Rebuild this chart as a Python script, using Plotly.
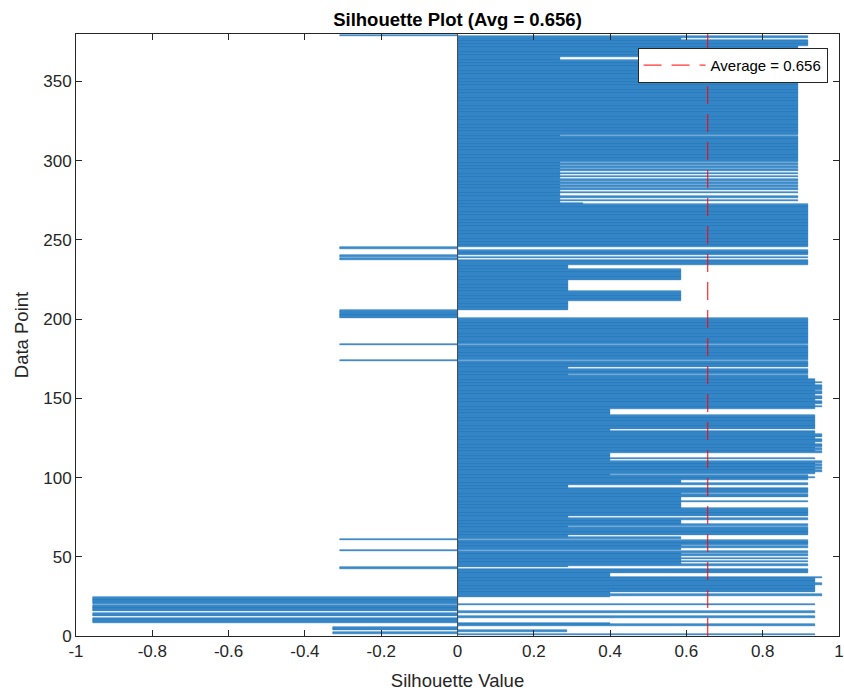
import plotly.graph_objects as go

# Silhouette values per data point (index 1..379)
vals_001_050 = [0.936, -0.326, 0.286, -0.326, -0.326, 0.0, 0.936, 0.401, -0.955, -0.955,
                -0.955, 0.936, -0.955, -0.955, 0.936, -0.955, -0.955, -0.955, -0.955, 0.936,
                -0.955, -0.955, -0.955, -0.955, 0.401, 0.955, 0.401, 0.936, 0.936, 0.936,
                0.936, 0.936, 0.955, 0.936, 0.936, 0.936, 0.955, 0.401, 0.401, 0.919,
                0.919, 0.919, -0.308, 0.289, 0.919, 0.586, 0.919, 0.586, 0.919, 0.586]
vals_051_100 = [0.919, 0.586, 0.919, -0.308, 0.586, 0.919, 0.586, 0.919, 0.919, 0.919,
                -0.308, 0.586, 0.289, 0.919, 0.919, 0.919, 0.919, 0.919, 0.289, 0.919,
                0.586, 0.586, 0.586, 0.919, 0.289, 0.919, 0.919, 0.919, 0.919, 0.919,
                0.586, 0.586, 0.586, 0.586, 0.919, 0.586, 0.586, 0.919, 0.919, 0.586,
                0.919, 0.919, 0.919, 0.289, 0.289, 0.919, 0.586, 0.586, 0.919, 0.936]
vals_101_150 = [0.919, 0.401, 0.936, 0.955, 0.936, 0.955, 0.936, 0.955, 0.936, 0.955,
                0.401, 0.936, 0.401, 0.401, 0.401, 0.955, 0.936, 0.955, 0.936, 0.955,
                0.955, 0.936, 0.955, 0.955, 0.936, 0.955, 0.955, 0.936, 0.936, 0.401,
                0.936, 0.936, 0.936, 0.936, 0.936, 0.936, 0.936, 0.936, 0.936, 0.401,
                0.401, 0.401, 0.401, 0.936, 0.955, 0.936, 0.955, 0.955, 0.936, 0.955]
vals_151_200 = [0.955, 0.936, 0.955, 0.955, 0.936, 0.955, 0.955, 0.955, 0.936, 0.955,
                0.936, 0.936, 0.919, 0.919, 0.289, 0.919, 0.919, 0.919, 0.289, 0.919,
                0.919, 0.919, 0.919, -0.308, 0.919, 0.919, 0.919, 0.919, 0.919, 0.919,
                0.919, 0.919, 0.919, -0.308, 0.919, 0.919, 0.919, 0.919, 0.919, 0.919,
                0.919, 0.919, 0.919, 0.919, 0.919, 0.919, 0.919, 0.919, 0.919, 0.919]
vals_201_250 = [-0.308, -0.308, -0.308, -0.308, -0.308, 0.289, 0.289, 0.289, 0.289, 0.289,
                0.289, 0.586, 0.586, 0.586, 0.586, 0.586, 0.586, 0.289, 0.289, 0.289,
                0.289, 0.289, 0.289, 0.289, 0.586, 0.586, 0.586, 0.586, 0.586, 0.586,
                0.586, 0.289, 0.289, 0.289, 0.919, 0.919, 0.919, -0.308, 0.919, -0.308,
                0.919, 0.919, 0.919, 0.0, -0.308, 0.919, 0.919, 0.919, 0.919, 0.919]
vals_251_300 = [0.919, 0.919, 0.919, 0.919, 0.919, 0.919, 0.919, 0.919, 0.919, 0.919,
                0.919, 0.919, 0.919, 0.919, 0.919, 0.919, 0.919, 0.919, 0.919, 0.919,
                0.919, 0.919, 0.328, 0.268, 0.893, 0.268, 0.893, 0.268, 0.268, 0.893,
                0.268, 0.893, 0.268, 0.893, 0.268, 0.893, 0.268, 0.893, 0.268, 0.893,
                0.268, 0.893, 0.268, 0.893, 0.268, 0.893, 0.268, 0.893, 0.268, 0.893]
vals_301_350 = [0.893, 0.893, 0.893, 0.893, 0.893, 0.893, 0.893, 0.893, 0.893, 0.893,
                0.893, 0.893, 0.893, 0.893, 0.893, 0.268, 0.893, 0.893, 0.893, 0.893,
                0.893, 0.893, 0.893, 0.893, 0.893, 0.893, 0.893, 0.893, 0.893, 0.893,
                0.893, 0.893, 0.893, 0.893, 0.893, 0.893, 0.893, 0.893, 0.893, 0.893,
                0.893, 0.893, 0.893, 0.893, 0.893, 0.893, 0.893, 0.893, 0.893, 0.893]
vals_351_379 = [0.893, 0.893, 0.893, 0.893, 0.893, 0.893, 0.893, 0.893, 0.893, 0.893,
                0.893, 0.893, 0.893, 0.268, 0.268, 0.893, 0.893, 0.893, 0.893, 0.893,
                0.893, 0.893, 0.919, 0.919, 0.919, 0.919, 0.586, 0.919, -0.308]

avg_value = 0.656
x_ticks = [-1, -0.8, -0.6, -0.4, -0.2, 0, 0.2, 0.4, 0.6, 0.8, 1]
x_tick_text = ["-1", "-0.8", "-0.6", "-0.4", "-0.2", "0", "0.2", "0.4", "0.6", "0.8", "1"]
y_ticks = [0, 50, 100, 150, 200, 250, 300, 350]
title_text = "Silhouette Plot (Avg = 0.656)"
legend_text = "Average = 0.656"

values = (vals_001_050 + vals_051_100 + vals_101_150 + vals_151_200 +
          vals_201_250 + vals_251_300 + vals_301_350 + vals_351_379)
n = len(values)
idx = list(range(1, n + 1))

FONT = "Helvetica, Liberation Sans, Arial, sans-serif"
AXC = "#262626"

fig = go.Figure()
fig.add_trace(go.Bar(
    x=values, y=idx, orientation="h",
    marker=dict(color="#4190ce", line=dict(color="#0a67b0", width=0.5)),
    showlegend=False, hoverinfo="x+y",
))
fig.add_trace(go.Scatter(
    x=[avg_value, avg_value], y=[0, n + 1], mode="lines",
    line=dict(color="#ff0000", width=1, dash="18px,10px"),
    name=legend_text, showlegend=True,
))

fig.add_shape(type="line", xref="x", yref="paper", x0=0, x1=0, y0=0, y1=1,
              line=dict(color="#4d4d4d", width=1), layer="above")

fig.update_layout(
    width=844, height=694,
    margin=dict(l=76, r=5, t=34, b=58, autoexpand=False),
    paper_bgcolor="white", plot_bgcolor="white",
    bargap=0.0,
    font=dict(family=FONT, size=17, color=AXC),
    title=dict(text="<b>" + title_text + "</b>", x=0.5, xref="paper", y=0.972,
               yanchor="middle", xanchor="center",
               font=dict(family=FONT, size=18.5, color="#000000")),
    legend=dict(x=0.985, xanchor="right", y=0.977, yanchor="top",
                bgcolor="white", bordercolor=AXC, borderwidth=1,
                font=dict(family=FONT, size=15, color="#000000"),
                itemwidth=62, tracegroupgap=0),
    showlegend=True,
)
fig.update_xaxes(
    range=[-1, 1], tickvals=x_ticks, ticktext=x_tick_text, automargin=False,
    showline=True, linecolor=AXC, linewidth=1, mirror="ticks",
    ticks="inside", ticklen=6, tickcolor=AXC, showgrid=False, zeroline=False,
    title=dict(text="Silhouette Value", standoff=13, font=dict(size=18.5, color=AXC)),
    tickfont=dict(size=17, color=AXC),
)
fig.update_yaxes(
    range=[0, n + 1], tickvals=y_ticks, automargin=False,
    showline=True, linecolor=AXC, linewidth=1, mirror="ticks",
    ticks="inside", ticklen=6, tickcolor=AXC, showgrid=False, zeroline=False,
    title=dict(text="Data Point", standoff=9, font=dict(size=18.5, color=AXC)),
    tickfont=dict(size=17, color=AXC),
)

fig.write_html("out.html", config={"displayModeBar": False},
               post_script="document.body.style.margin='0px';")
